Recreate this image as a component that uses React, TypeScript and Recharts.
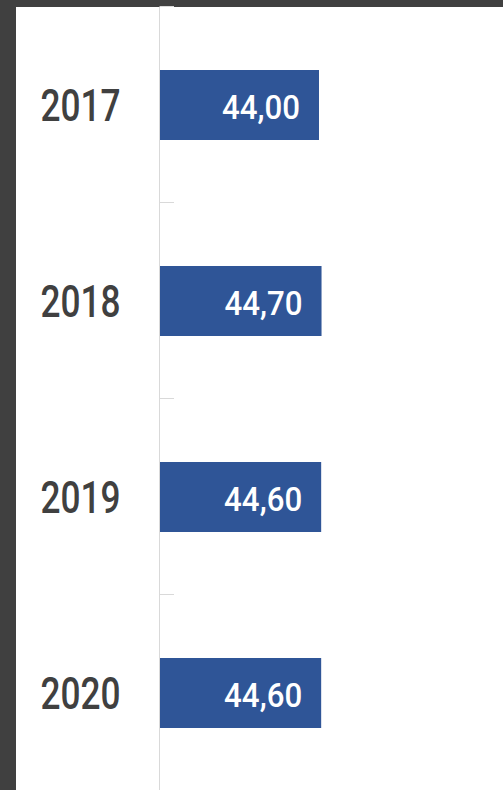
import React from 'react';
import { BarChart, Bar, XAxis, YAxis, LabelList } from 'recharts';

const years = ['2017', '2018', '2019', '2020'];
const values = [44.0, 44.7, 44.6, 44.6];
const xDomain: [number, number] = [0, 100];

const data = years.map((year, i) => ({ year, value: values[i] }));

const CHART_W = 506;
const CHART_H = 786;
const MARGIN = { top: 1, right: 0, bottom: 1, left: 0 };
const AXIS_W = 143.5;
const BAND = (CHART_H - MARGIN.top - MARGIN.bottom) / years.length;
const FONT = "Roboto, 'Noto Sans', sans-serif";
const AXIS_COLOR = '#d9d9d9';
const TEXT_COLOR = '#404040';
const BAR_COLOR = '#2F5597';

const fmt = (v: number) => v.toFixed(2).replace('.', ',');

function YearTick(props: any) {
  const { y, payload } = props;
  const axisX = MARGIN.left + AXIS_W;
  const ty = y - BAND / 2 - 0.5;
  return (
    <g>
      <line x1={axisX} x2={axisX + 14.5} y1={ty} y2={ty} stroke={AXIS_COLOR} strokeWidth={1} />
      <text
        transform={`translate(${axisX - 39},${y}) scale(0.8,1)`}
        x={0}
        y={0}
        dy="0.355em"
        textAnchor="end"
        fontSize={44}
        fontWeight={500}
        fill={TEXT_COLOR}
        fontFamily={FONT}
      >
        {payload.value}
      </text>
    </g>
  );
}

function ValueLabel(props: any) {
  const { x, y, width, height, value } = props;
  return (
    <text
      transform={`translate(${x + width - 19},${y + height / 2 + 1.5}) scale(0.92,1)`}
      x={0}
      y={0}
      dy="0.355em"
      textAnchor="end"
      fontSize={34}
      fontWeight={500}
      fill="#ffffff"
      fontFamily={FONT}
    >
      {fmt(Number(value))}
    </text>
  );
}

export default function App() {
  return (
    <div
      style={{
        position: 'absolute',
        left: 0,
        top: 0,
        width: 503,
        height: 790,
        background: '#404040',
        overflow: 'hidden',
      }}
    >
      <div style={{ position: 'absolute', left: 16, top: 7, right: 0, bottom: 0, background: '#ffffff' }} />
      <div style={{ position: 'absolute', left: 16, top: 6 }}>
        <BarChart
          layout="vertical"
          width={CHART_W}
          height={CHART_H}
          data={data}
          margin={MARGIN}
          barSize={70}
        >
          <XAxis type="number" domain={xDomain} hide />
          <YAxis
            type="category"
            dataKey="year"
            width={AXIS_W}
            axisLine={{ stroke: AXIS_COLOR }}
            tickLine={false}
            interval={0}
            tick={YearTick}
          />
          <Bar dataKey="value" fill={BAR_COLOR} isAnimationActive={false}>
            <LabelList dataKey="value" content={ValueLabel} />
          </Bar>
        </BarChart>
      </div>
    </div>
  );
}
